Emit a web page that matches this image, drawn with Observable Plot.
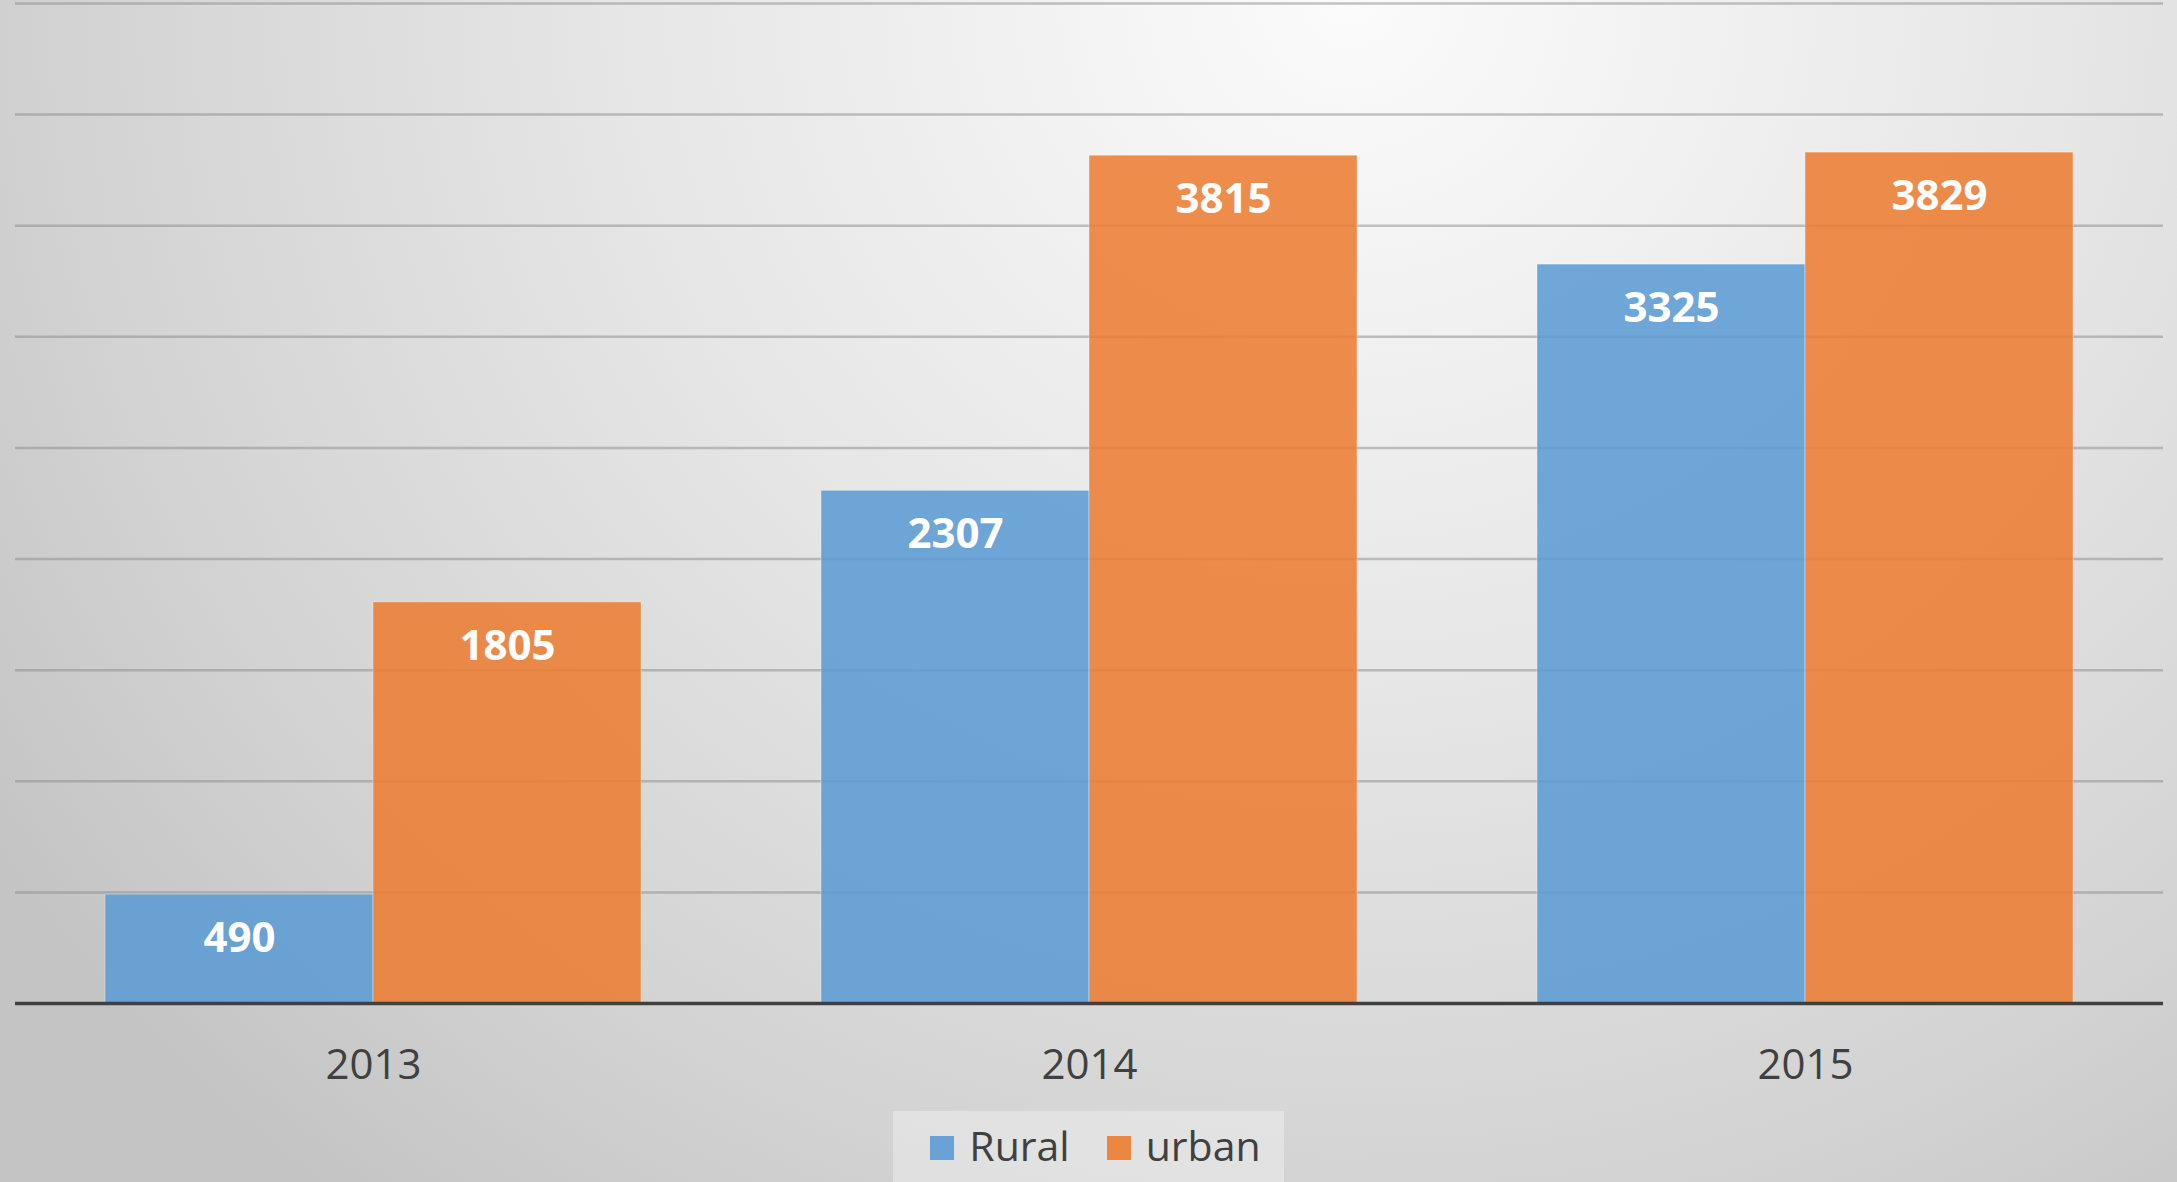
<!DOCTYPE html>
<html>
<head>
<meta charset="utf-8">
<script src="https://cdn.jsdelivr.net/npm/d3@7"></script>
<script src="https://cdn.jsdelivr.net/npm/@observablehq/plot@0.6"></script>
<style>
  html, body { margin: 0; padding: 0; }
  body {
    width: 2177px; height: 1182px; overflow: hidden;
    background: radial-gradient(ellipse 75% 130% at 62% 0%, #fbfbfb 0%, #e6e6e6 45%, #d2d2d2 80%, #c4c4c4 100%);
    font-family: "Open Sans", sans-serif;
  }
  #legend { width: 2177px; text-align: center; margin-top: 6px; }
  #legend .box {
    display: inline-flex; align-items: center; height: 90px; box-sizing: border-box;
    padding: 0 23px 22px 37px; background: rgba(255,255,255,0.32);
    font-size: 41px; color: #404040;
  }
  #legend .sw { width: 24px; height: 24px; display: inline-block; margin-right: 15px; margin-top: 6px; }
  #legend .item { display: inline-flex; align-items: center; }
  #legend .item + .item { margin-left: 37px; }
</style>
</head>
<body>
<div id="chart"></div>
<div id="legend"></div>
<script>
const years = ["2013", "2014", "2015"];
const series = ["Rural", "urban"];
const rural = [490, 2307, 3325];
const urban = [1805, 3815, 3829];
const colors = ["#5B9BD5", "#ED7D31"];
const gridValues = [500, 1000, 1500, 2000, 2500, 3000, 3500, 4000, 4500];

const data = [];
years.forEach((y, i) => {
  data.push({year: y, series: "Rural", value: rural[i]});
  data.push({year: y, series: "urban", value: urban[i]});
});

const chart = Plot.plot({
  width: 2177,
  height: 1105,
  marginTop: 3,
  marginBottom: 102,
  marginLeft: 14,
  marginRight: 14,
  style: {background: "transparent", fontFamily: "Open Sans, sans-serif"},
  fx: {domain: years, padding: 0, label: null},
  x: {domain: series, paddingInner: 0, paddingOuter: 1 / 3, axis: null},
  y: {domain: [0, 4500], axis: null},
  color: {domain: series, range: colors},
  marks: [
    Plot.ruleY(gridValues, {stroke: "#8a8a8a", strokeOpacity: 0.5, strokeWidth: 2.5}),
    Plot.barY(data, {fx: "year", x: "series", y: "value", fill: "series", fillOpacity: 0.87,
      stroke: "white", strokeOpacity: 0.35, strokeWidth: 1}),
    Plot.ruleY([0], {stroke: "#404040", strokeWidth: 3.5}),
    Plot.text(data, {fx: "year", x: "series", y: "value", text: d => String(d.value), dy: 44,
      fill: "white", fontWeight: "bold", fontSize: 42}),
    Plot.axisFx({anchor: "bottom", tickSize: 0, tickPadding: 46, fontSize: 42, color: "#404040", label: null})
  ]
});
document.getElementById("chart").appendChild(chart);

const legend = document.getElementById("legend");
const box = document.createElement("div");
box.className = "box";
series.forEach((s, i) => {
  const item = document.createElement("span");
  item.className = "item";
  const sw = document.createElement("span");
  sw.className = "sw";
  sw.style.background = colors[i];
  sw.style.opacity = 0.9;
  item.appendChild(sw);
  const t = document.createElement("span");
  t.textContent = s;
  item.appendChild(t);
  box.appendChild(item);
});
legend.appendChild(box);
</script>
</body>
</html>
